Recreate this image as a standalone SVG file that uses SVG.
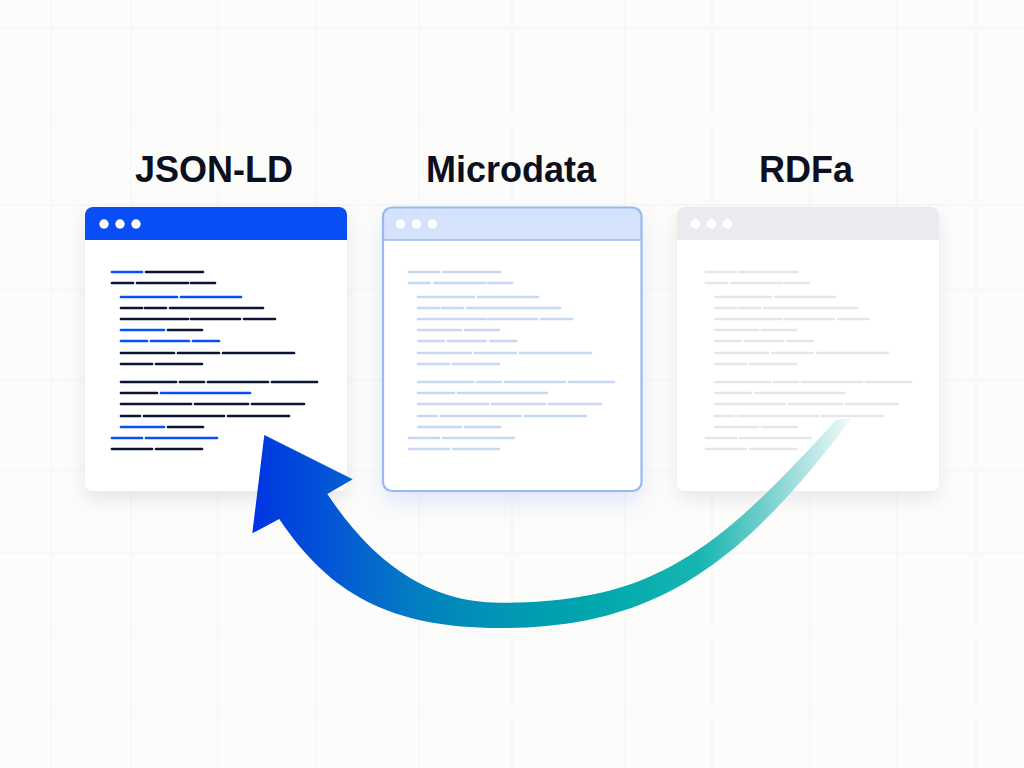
<svg xmlns="http://www.w3.org/2000/svg" xmlns:xlink="http://www.w3.org/1999/xlink" width="1024" height="768" viewBox="0 0 1024 768">
<style>
  .title { font-family: "Liberation Sans", Arial, sans-serif; font-weight: 700; font-size: 36px; fill: #0b0f1e; text-anchor: middle; }
  .grid line { stroke: #f4f4f3; stroke-width: 1; }
  .dot { fill: #ffffff; }
</style>
<defs>
  <filter id="sh1" x="-20%" y="-20%" width="140%" height="150%">
    <feDropShadow dx="0" dy="8" stdDeviation="9" flood-color="#1a2440" flood-opacity="0.09"/>
  </filter>
  <filter id="sh2" x="-20%" y="-20%" width="140%" height="150%">
    <feDropShadow dx="0" dy="12" stdDeviation="11" flood-color="#4a78f0" flood-opacity="0.16"/>
  </filter>
  <filter id="sh3" x="-20%" y="-20%" width="140%" height="150%">
    <feDropShadow dx="0" dy="8" stdDeviation="9" flood-color="#1a1a30" flood-opacity="0.08"/>
  </filter>
  <linearGradient id="arrowGrad" gradientUnits="userSpaceOnUse" x1="255" y1="500" x2="850" y2="500">
    <stop offset="0" stop-color="#0036e2"/>
    <stop offset="0.126" stop-color="#0456d6"/>
    <stop offset="0.277" stop-color="#037fc0"/>
    <stop offset="0.41" stop-color="#0096b4"/>
    <stop offset="0.58" stop-color="#00a8ac"/>
    <stop offset="0.748" stop-color="#18b5b2"/>
    <stop offset="0.849" stop-color="#6ccdca"/>
    <stop offset="0.916" stop-color="#a9e1e0"/>
    <stop offset="1" stop-color="#f2fafa"/>
  </linearGradient>
  <g id="code-dark" fill="none" stroke-width="2.7" stroke-linecap="round">
    <path d="M146 272H203"/>
    <path d="M112 283H133M137 283H188M191 283H215"/>
    <path d="M121 308H142M145 308H166M170 308H263"/>
    <path d="M121 319H188M191 319H240M244 319H275"/>
    <path d="M168 330H202"/>
    <path d="M121 353H174M178 353H219M223 353H294"/>
    <path d="M121 364H152M156 364H202"/>
    <path d="M121 382H176M180 382H204M208 382H268M272 382H317"/>
    <path d="M121 393H157"/>
    <path d="M121 404H191M195 404H248M252 404H304"/>
    <path d="M121 416H140M144 416H224M228 416H289"/>
    <path d="M168 427H203"/>
    <path d="M112 449H152M156 449H202"/>
  </g>
  <g id="code-blue" fill="none" stroke-width="2.7" stroke-linecap="round">
    <path d="M112 272H142"/>
    <path d="M121 297H177M181 297H241"/>
    <path d="M121 330H164"/>
    <path d="M121 341H147M151 341H189M193 341H219"/>
    <path d="M161 393H250"/>
    <path d="M121 427H164"/>
    <path d="M112 438H142M146 438H217"/>
  </g>
</defs>

<rect x="0" y="0" width="1024" height="768" fill="#fcfcfb"/>
<g class="grid">
  <line x1="51" y1="0" x2="51" y2="768"/>
  <line x1="131" y1="0" x2="131" y2="768"/>
  <line x1="218" y1="0" x2="218" y2="768"/>
  <line x1="316" y1="0" x2="316" y2="768"/>
  <line x1="419" y1="0" x2="419" y2="768"/>
  <line x1="512" y1="0" x2="512" y2="768"/>
  <line x1="625" y1="0" x2="625" y2="768"/>
  <line x1="712" y1="0" x2="712" y2="768"/>
  <line x1="810" y1="0" x2="810" y2="768"/>
  <line x1="897" y1="0" x2="897" y2="768"/>
  <line x1="976" y1="0" x2="976" y2="768"/>
  <line x1="0" y1="28" x2="1024" y2="28"/>
  <line x1="0" y1="120" x2="1024" y2="120"/>
  <line x1="0" y1="205" x2="1024" y2="205"/>
  <line x1="0" y1="290" x2="1024" y2="290"/>
  <line x1="0" y1="380" x2="1024" y2="380"/>
  <line x1="0" y1="470" x2="1024" y2="470"/>
  <line x1="0" y1="553" x2="1024" y2="553"/>
  <line x1="0" y1="632" x2="1024" y2="632"/>
  <line x1="0" y1="712" x2="1024" y2="712"/>
</g>

<g id="node-jsonld">
  <text class="title" x="214" y="182">JSON-LD</text>
  <rect x="85" y="207" width="262" height="284" rx="8" fill="#ffffff" filter="url(#sh1)"/>
  <path d="M85 240V215a8 8 0 0 1 8-8H339a8 8 0 0 1 8 8V240Z" fill="#0a4ff5"/>
  <circle class="dot" cx="104" cy="224" r="4.7"/>
  <circle class="dot" cx="120" cy="224" r="4.7"/>
  <circle class="dot" cx="136" cy="224" r="4.7"/>
  <g class="code">
    <use href="#code-dark" stroke="#0b1533"/>
    <use href="#code-blue" stroke="#0a4ef5"/>
  </g>
</g>

<g id="node-microdata">
  <text class="title" x="511" y="182">Microdata</text>
  <rect x="383" y="207.5" width="258.5" height="283.5" rx="9" fill="#ffffff" filter="url(#sh2)"/>
  <path d="M383 240V216.5a9 9 0 0 1 9-9H632.5a9 9 0 0 1 9 9V240Z" fill="#d5e2fb"/>
  <line x1="383" y1="240" x2="641.5" y2="240" stroke="#9ab9ef" stroke-width="1.6"/>
  <rect x="383" y="207.5" width="258.5" height="283.5" rx="9" fill="none" stroke="#9ab9ef" stroke-width="2.2"/>
  <circle class="dot" cx="400.5" cy="224" r="4.7"/>
  <circle class="dot" cx="416.5" cy="224" r="4.7"/>
  <circle class="dot" cx="432.5" cy="224" r="4.7"/>
  <g class="code" transform="translate(297 0)">
    <use href="#code-dark" stroke="#c8d7f4"/>
    <use href="#code-blue" stroke="#c8d7f4"/>
  </g>
</g>

<g id="node-rdfa">
  <text class="title" x="806" y="182">RDFa</text>
  <rect x="677" y="207" width="262" height="284" rx="8" fill="#ffffff" filter="url(#sh3)"/>
  <path d="M677 240V215a8 8 0 0 1 8-8H931a8 8 0 0 1 8 8V240Z" fill="#ebebef"/>
  <circle class="dot" cx="695.5" cy="224" r="4.7"/>
  <circle class="dot" cx="711.5" cy="224" r="4.7"/>
  <circle class="dot" cx="727.5" cy="224" r="4.7"/>
  <g class="code" transform="translate(594 0)">
    <use href="#code-dark" stroke="#e5e6ea"/>
    <use href="#code-blue" stroke="#e5e6ea"/>
  </g>
</g>

<g id="connectors">
  <path d="M264.3 435L352.7 479.3L327.3 494C366.2 552.1 420 602.7 500 602.7C650 602.7 712.8 556.2 836.7 419.3L851.7 418.3C737.7 570.3 650 628 500 628C390 628 329.4 593.7 279.3 519L252.3 533.3Z" fill="url(#arrowGrad)"/>
</g>
</svg>
